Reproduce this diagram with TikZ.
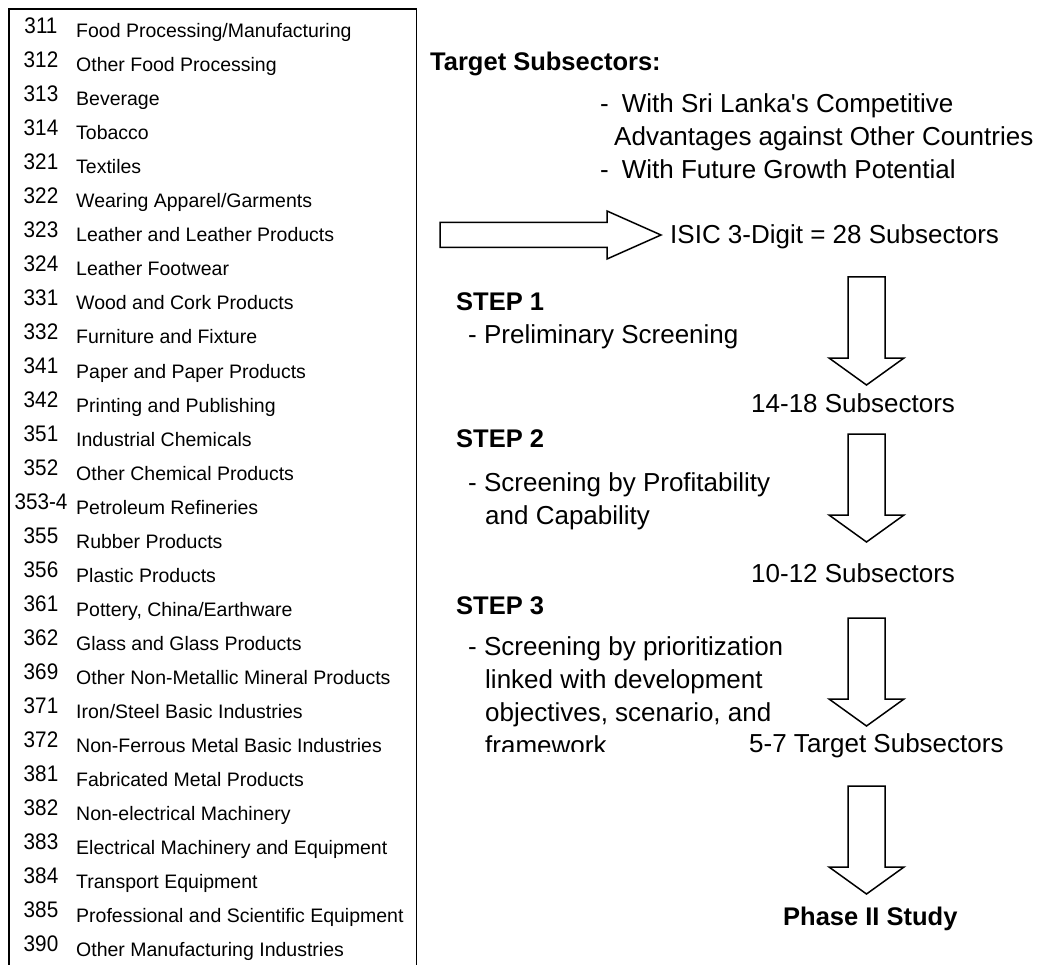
\documentclass[tikz,border=0pt]{standalone}
\usepackage{fontspec}
\setmainfont{Liberation Sans}
\begin{document}
\begin{tikzpicture}[x=1pt,y=-1pt,
  txt/.style={inner sep=0pt, anchor=base west, font=\fontsize{26}{30}\selectfont},
  hdr/.style={inner sep=0pt, anchor=base west, font=\fontsize{25.5}{30}\selectfont\bfseries},
  code/.style={inner sep=0pt, anchor=base, font=\fontsize{22.5}{26}\selectfont},
  item/.style={inner sep=0pt, anchor=base west, font=\fontsize{19.5}{23}\selectfont},
  fat/.style={draw=black, line width=1.5pt, fill=white, line join=miter},
  frame/.style={draw=black, line width=1.8pt},
  bigdown/.pic={\draw[fat] (-18.5,0) -- (18.5,0) -- (18.5,81) -- (37.5,81)
      -- (0,108) -- (-37.5,81) -- (-18.5,81) -- cycle;}]
\useasboundingbox (0,0) rectangle (1046,965);
\clip (0,0) rectangle (1046,965);

% list of ISIC 3-digit subsectors (frame runs past the lower edge)
\draw[frame] (9,9) rectangle (416.5,990);
\foreach \c/\t [count=\i from 0] in {
  311/{Food Processing/Manufacturing},
  312/{Other Food Processing},
  313/{Beverage},
  314/{Tobacco},
  321/{Textiles},
  322/{Wearing Apparel/Garments},
  323/{Leather and Leather Products},
  324/{Leather Footwear},
  331/{Wood and Cork Products},
  332/{Furniture and Fixture},
  341/{Paper and Paper Products},
  342/{Printing and Publishing},
  351/{Industrial Chemicals},
  352/{Other Chemical Products},
  353-4/{Petroleum Refineries},
  355/{Rubber Products},
  356/{Plastic Products},
  361/{Pottery, China/Earthware},
  362/{Glass and Glass Products},
  369/{Other Non-Metallic Mineral Products},
  371/{Iron/Steel Basic Industries},
  372/{Non-Ferrous Metal Basic Industries},
  381/{Fabricated Metal Products},
  382/{Non-electrical Machinery},
  383/{Electrical Machinery and Equipment},
  384/{Transport Equipment},
  385/{Professional and Scientific Equipment},
  390/{Other Manufacturing Industries}}{
  \node[code] (n\i) at (41,{33.5+34*\i}) {\scalebox{0.92}[1]{\c}};
  \node[item] (l\i) at (76,{38+34*\i}) {\t};
}

% target subsectors
\node[hdr] (target) at (430,71) {Target Subsectors:};
\node[txt] (crit1) at (600,113) {-\hspace{13pt}With Sri Lanka\textquotesingle s Competitive};
\node[txt] (crit1b) at (614,146) {Advantages against Other Countries};
\node[txt] (crit2) at (600,179) {-\hspace{13pt}With Future Growth Potential};

% flow from the list to the 28 subsectors
\draw[fat] (440,222.5) -- (607,222.5) -- (607,211) -- (661,235)
  -- (607,259) -- (607,247.5) -- (440,247.5) -- cycle;
\node[txt] (isic) at (670,244) {ISIC 3-Digit = 28 Subsectors};

% step 1
\node[hdr] (s1) at (456,311) {STEP 1};
\node[txt] (s1a) at (468,344) {- Preliminary Screening};
\pic at (866.5,277) {bigdown};
\node[txt] (r1) at (751,412) {14-18 Subsectors};

% step 2
\node[hdr] (s2) at (456,447) {STEP 2};
\node[txt] (s2a) at (468,491) {- Screening by Profitability};
\node[txt] (s2b) at (485,524) {and Capability};
\pic at (866.5,434) {bigdown};
\node[txt] (r2) at (751,582) {10-12 Subsectors};

% step 3
\node[hdr] (s3) at (456,614) {STEP 3};
\node[txt] (s3a) at (468,655) {- Screening by prioritization};
\node[txt] (s3b) at (485,688) {linked with development};
\node[txt] (s3c) at (485,721) {objectives, scenario, and};
\begin{scope}
  \clip (440,700) rectangle (745,751);
  \node[txt] (s3d) at (485,754) {framework};
\end{scope}
\pic at (866.5,618) {bigdown};
\node[txt] (r3) at (749,752) {5-7 Target Subsectors};

% hand-over to phase II
\pic at (866.5,786) {bigdown};
\node[hdr] (phase) at (783,925) {Phase II Study};
\end{tikzpicture}
\end{document}
